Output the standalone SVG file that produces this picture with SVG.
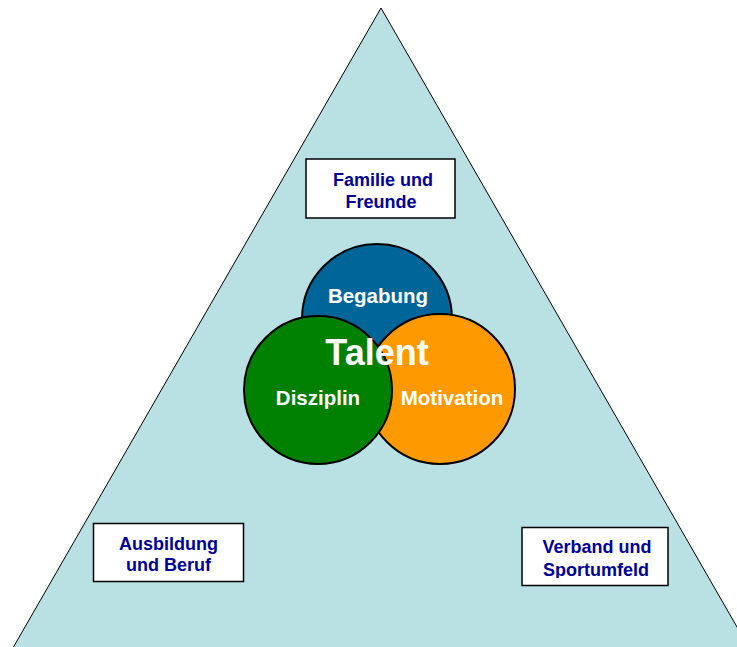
<svg xmlns="http://www.w3.org/2000/svg" width="737" height="647" viewBox="0 0 737 647">
  <style>
    .box { fill: #ffffff; stroke: #000000; stroke-width: 1.5; }
    .boxtext { font-family: "Liberation Sans", Arial, sans-serif; font-weight: bold; font-size: 18px; fill: #000099; text-anchor: middle; }
    .ring { stroke: #000000; stroke-width: 2; }
    .ringtext { font-family: "Liberation Sans", Arial, sans-serif; font-weight: bold; font-size: 20.5px; fill: #ffffff; text-anchor: middle; }
    .title { font-family: "Liberation Sans", Arial, sans-serif; font-weight: bold; font-size: 36px; fill: #ffffff; text-anchor: middle; }
  </style>
  <defs>
    <clipPath id="verbandClip">
      <rect x="522" y="527" width="146" height="51"/>
    </clipPath>
  </defs>
  <rect width="737" height="647" fill="#ffffff"/>

  <!-- environment triangle -->
  <g id="triangle">
    <polygon points="381,8 6,660 756,660" fill="#b9e0e3" stroke="#000000" stroke-width="1"/>
  </g>

  <!-- environment labels -->
  <g id="familie">
    <rect class="box" x="306" y="159" width="149" height="59"/>
    <text class="boxtext" x="383" y="186">Familie und</text>
    <text class="boxtext" x="381" y="207.5">Freunde</text>
  </g>
  <g id="ausbildung">
    <rect class="box" x="93.5" y="523.5" width="150" height="58"/>
    <text class="boxtext" x="168.5" y="549.5">Ausbildung</text>
    <text class="boxtext" x="168.5" y="571">und Beruf</text>
  </g>
  <g id="verband">
    <rect class="box" x="522" y="527.5" width="146" height="58"/>
    <g clip-path="url(#verbandClip)">
      <text class="boxtext" x="597" y="553">Verband und</text>
      <text class="boxtext" x="596" y="576">Sportumfeld</text>
    </g>
  </g>

  <!-- talent circles -->
  <g id="begabung">
    <circle class="ring" cx="377" cy="319" r="75" fill="#006699"/>
    <text class="ringtext" x="378" y="303">Begabung</text>
  </g>
  <g id="motivation">
    <circle class="ring" cx="440" cy="389" r="75" fill="#ff9900"/>
  </g>
  <g id="disziplin">
    <circle class="ring" cx="318" cy="390" r="74" fill="#008000"/>
    <text class="ringtext" x="318" y="405">Disziplin</text>
  </g>
  <text class="ringtext" x="452" y="405">Motivation</text>
  <g id="talent">
    <text class="title" x="377" y="365">Talent</text>
  </g>
</svg>
